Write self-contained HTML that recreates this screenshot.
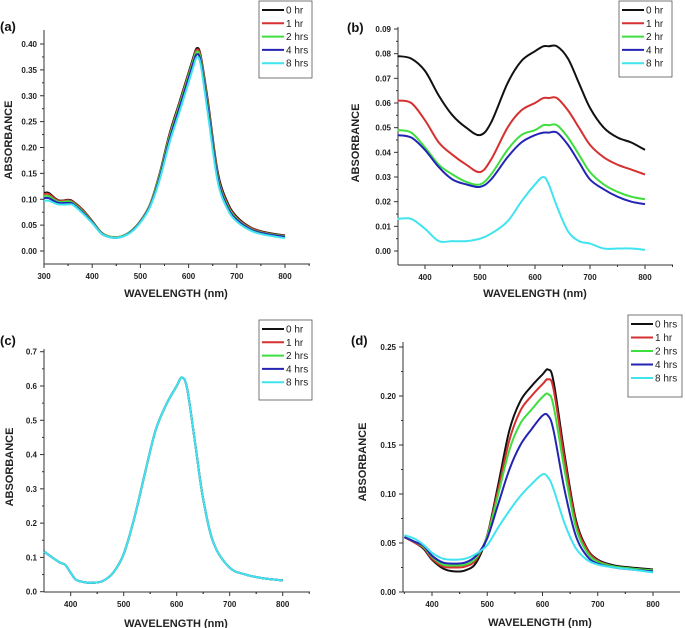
<!DOCTYPE html>
<html><head><meta charset="utf-8"><style>
html,body{margin:0;padding:0;background:#fff;}
svg{display:block;font-family:"Liberation Sans",Arial,sans-serif;}
</style></head><body>
<svg id="fig" width="685" height="628" viewBox="0 0 685 628"></svg>
<script>
// ---- data: panel (a) ----
const aWave=[300,310,330,350,360,380,400,420,440,460,480,500,520,540,560,580,600,610,617,625,640,660,680,700,730,760,800];
const a0=[0.112,0.112,0.098,0.099,0.096,0.08,0.058,0.035,0.027,0.028,0.038,0.058,0.09,0.15,0.225,0.285,0.345,0.375,0.392,0.378,0.29,0.155,0.095,0.066,0.045,0.036,0.030];
const a1=[0.110,0.110,0.097,0.098,0.095,0.079,0.057,0.034,0.027,0.028,0.038,0.058,0.09,0.148,0.222,0.282,0.342,0.372,0.389,0.375,0.285,0.150,0.092,0.064,0.044,0.035,0.029];
const a2=[0.106,0.106,0.095,0.096,0.093,0.077,0.056,0.034,0.027,0.028,0.038,0.057,0.089,0.146,0.219,0.279,0.339,0.369,0.385,0.371,0.28,0.146,0.089,0.062,0.042,0.034,0.028];
const a4=[0.102,0.102,0.093,0.093,0.091,0.075,0.055,0.033,0.026,0.027,0.037,0.056,0.087,0.142,0.214,0.274,0.334,0.364,0.380,0.366,0.274,0.142,0.086,0.060,0.041,0.033,0.027];
const a8=[0.097,0.097,0.090,0.090,0.089,0.073,0.054,0.033,0.026,0.027,0.036,0.055,0.085,0.138,0.208,0.266,0.326,0.356,0.374,0.36,0.265,0.136,0.082,0.057,0.039,0.031,0.025];
const aLabels=["0 hr","1 hr","2 hrs","4 hrs","8 hrs"];
const aTicksY=["0.00","0.05","0.10","0.15","0.20","0.25","0.30","0.35","0.40"];
const aTicksX=["300","400","500","600","700","800"];
// ---- data: panel (b) ----
const bWave=[350,375,400,425,450,475,500,520,550,575,600,615,625,640,660,680,700,725,750,775,800];
const b0=[0.079,0.078,0.073,0.063,0.055,0.050,0.047,0.052,0.068,0.077,0.081,0.083,0.083,0.083,0.078,0.068,0.058,0.050,0.046,0.044,0.041];
const b1=[0.061,0.060,0.053,0.044,0.039,0.035,0.032,0.037,0.050,0.057,0.060,0.062,0.062,0.062,0.057,0.050,0.043,0.038,0.035,0.033,0.031];
const b2=[0.049,0.048,0.042,0.035,0.031,0.028,0.027,0.031,0.041,0.047,0.049,0.051,0.051,0.051,0.046,0.039,0.032,0.027,0.024,0.022,0.021];
const b4=[0.047,0.046,0.041,0.034,0.029,0.027,0.026,0.029,0.038,0.044,0.047,0.048,0.048,0.048,0.043,0.036,0.029,0.025,0.022,0.020,0.019];
const b8=[0.013,0.013,0.009,0.004,0.004,0.004,0.005,0.007,0.012,0.020,0.027,0.030,0.027,0.018,0.008,0.004,0.003,0.001,0.001,0.001,0.0005];
const bLabels=["0 hr","1 hr","2 hr","4 hr","8 hr"];
const bTicksY=["0.00","0.01","0.02","0.03","0.04","0.05","0.06","0.07","0.08","0.09"];
const bTicksX=["400","500","600","700","800"];
// ---- data: panel (c) ----
const cWave=[350,365,380,390,400,410,425,440,460,480,500,520,540,560,580,600,610,620,635,650,670,700,730,760,800];
const c0=[0.117,0.100,0.085,0.078,0.055,0.035,0.028,0.026,0.031,0.055,0.11,0.215,0.345,0.47,0.545,0.6,0.625,0.59,0.43,0.27,0.14,0.07,0.05,0.04,0.033];
const c1=[0.117,0.100,0.085,0.078,0.055,0.035,0.028,0.026,0.031,0.055,0.11,0.215,0.345,0.47,0.545,0.6,0.625,0.59,0.43,0.27,0.14,0.07,0.05,0.04,0.033];
const c2=[0.117,0.100,0.085,0.078,0.055,0.035,0.028,0.026,0.031,0.055,0.11,0.215,0.345,0.47,0.545,0.6,0.625,0.59,0.43,0.27,0.14,0.07,0.05,0.04,0.033];
const c4=[0.117,0.100,0.085,0.078,0.055,0.035,0.028,0.026,0.031,0.055,0.11,0.215,0.345,0.47,0.545,0.6,0.625,0.59,0.43,0.27,0.14,0.07,0.05,0.04,0.033];
const c8=[0.117,0.100,0.085,0.078,0.055,0.035,0.028,0.026,0.031,0.055,0.11,0.215,0.345,0.47,0.545,0.6,0.625,0.59,0.43,0.27,0.14,0.07,0.05,0.04,0.033];
const cLabels=["0 hr","1 hr","2 hrs","4 hrs","8 hrs"];
const cTicksY=["0.0","0.1","0.2","0.3","0.4","0.5","0.6","0.7"];
const cTicksX=["400","500","600","700","800"];
// ---- data: panel (d) ----
const dWave=[350,370,385,400,420,440,460,480,500,520,540,560,580,600,610,620,640,660,680,700,730,760,800];
const d0=[0.056,0.050,0.044,0.033,0.024,0.021,0.022,0.030,0.058,0.11,0.165,0.195,0.21,0.222,0.227,0.215,0.14,0.075,0.045,0.033,0.027,0.025,0.023];
const d1=[0.056,0.050,0.045,0.034,0.026,0.025,0.026,0.033,0.058,0.105,0.155,0.185,0.2,0.212,0.217,0.207,0.135,0.072,0.044,0.032,0.026,0.024,0.022];
const d2=[0.056,0.051,0.046,0.036,0.028,0.027,0.028,0.035,0.057,0.1,0.145,0.172,0.186,0.199,0.202,0.19,0.124,0.067,0.041,0.031,0.026,0.024,0.022];
const d4=[0.056,0.051,0.047,0.037,0.030,0.029,0.030,0.037,0.055,0.09,0.125,0.15,0.166,0.18,0.18,0.165,0.104,0.058,0.037,0.029,0.025,0.023,0.021];
const d8=[0.058,0.054,0.048,0.040,0.034,0.033,0.034,0.039,0.048,0.066,0.083,0.098,0.11,0.12,0.117,0.105,0.07,0.045,0.033,0.028,0.025,0.023,0.020];
const dLabels=["0 hrs","1 hr","2 hrs","4 hrs","8 hrs"];
const dTicksY=["0.00","0.05","0.10","0.15","0.20","0.25"];
const dTicksX=["400","500","600","700","800"];

const colors=["#111111","#d63030","#3ede3e","#2424b4","#40e4ee"];
const NS="http://www.w3.org/2000/svg";
const svg=document.getElementById('fig');
function mk(tag,attrs,parent){const e=document.createElementNS(NS,tag);for(const k in attrs)e.setAttribute(k,attrs[k]);(parent||svg).appendChild(e);return e;}
function smooth(pts){
  let d='M'+pts[0][0].toFixed(1)+','+pts[0][1].toFixed(1);
  for(let i=0;i<pts.length-1;i++){
    const p0=pts[Math.max(0,i-1)],p1=pts[i],p2=pts[i+1],p3=pts[Math.min(pts.length-1,i+2)];
    const c1x=p1[0]+(p2[0]-p0[0])/6,c1y=p1[1]+(p2[1]-p0[1])/6;
    const c2x=p2[0]-(p3[0]-p1[0])/6,c2y=p2[1]-(p3[1]-p1[1])/6;
    d+='C'+c1x.toFixed(1)+','+c1y.toFixed(1)+' '+c2x.toFixed(1)+','+c2y.toFixed(1)+' '+p2[0].toFixed(1)+','+p2[1].toFixed(1);
  }
  return d;
}

function panel(P){
  const g=mk('g',{});
  
  
  const sx=v=>P.x0+(v-P.wx0)/(P.wx1-P.wx0)*(P.px1-P.x0);
  const sy=v=>P.y0+(v-P.vy0)/(P.vy1-P.vy0)*(P.py1-P.y0);
  const ya=mk('line',{x1:P.axL,y1:P.axTop,x2:P.axL,y2:P.axB,stroke:'#333','stroke-width':1},g);
  
  
  const xa=mk('line',{x1:P.axL,y1:P.axB,x2:P.axR,y2:P.axB,stroke:'#333','stroke-width':1},g);
  
  
  P.ticksY.forEach((t,i)=>{
    const y=sy(parseFloat(t));
    mk('line',{x1:P.axL-4,y1:y,x2:P.axL,y2:y,stroke:'#333'},g);
    const tx=mk('text',{x:P.axL-7,y:y+3,'font-size':8,'font-weight':'bold','text-anchor':'end',fill:'#222'},g);
    tx.textContent=t;
    
    
    if(i<P.ticksY.length-1){const step=parseFloat(P.ticksY[1])-parseFloat(P.ticksY[0]);
      const ym=sy(parseFloat(t)+step/2);mk('line',{x1:P.axL-2,y1:ym,x2:P.axL,y2:ym,stroke:'#333'},g);}
  });
  P.ticksX.forEach(t=>{
    const x=sx(parseFloat(t));
    mk('line',{x1:x,y1:P.axB,x2:x,y2:P.axB+4,stroke:'#333'},g);
    const xm=sx(parseFloat(t)+50);
    if(xm<P.axR)mk('line',{x1:xm,y1:P.axB,x2:xm,y2:P.axB+2,stroke:'#333'},g);
    const xm2=sx(parseFloat(t)-50);
    if(xm2>P.axL+1)mk('line',{x1:xm2,y1:P.axB,x2:xm2,y2:P.axB+2,stroke:'#333'},g);
    const tx=mk('text',{x:x,y:P.axB+15,'font-size':8,'font-weight':'bold','text-anchor':'middle',fill:'#222'},g);
    tx.textContent=t;
    
    
  });
  P.series.forEach((s,i)=>{
    const pts=P.wave.map((w,j)=>[sx(w),sy(s[j])]);
    const p=mk('path',{d:smooth(pts),fill:'none',stroke:colors[i],'stroke-width':2,'stroke-linejoin':'round'},g);
    
    
  });
  const xt=mk('text',{x:P.xtX,y:P.xtY,'font-size':11,'font-weight':'bold','text-anchor':'middle',fill:'#222'},g);
  xt.textContent='WAVELENGTH (nm)';
  
  
  const yt=mk('text',{x:0,y:0,'font-size':11,'font-weight':'bold','text-anchor':'middle',fill:'#222',transform:'translate('+P.ytX+','+P.ytY+') rotate(-90)'},g);
  yt.textContent='ABSORBANCE';
  
  
  const pl=mk('text',{x:P.plX,y:P.plY,'font-size':13,'font-weight':'bold',fill:'#111'},g);
  pl.textContent='('+P.id+')';
  
  
  const lg=mk('g',{},g);
  
  
  mk('rect',{x:P.lgX,y:P.lgY,width:P.lgW,height:P.lgH,fill:'#fff',stroke:'#555','stroke-width':0.8},lg);
  P.labels.forEach((l,i)=>{
    const y=P.lgY+9+i*P.lgStep;
    const e=mk('g',{},lg);
    
    
    mk('line',{x1:P.lgX+3,y1:y,x2:P.lgX+25,y2:y,stroke:colors[i],'stroke-width':2},e);
    const t=mk('text',{x:P.lgX+27,y:y+3.5,'font-size':10,fill:'#222'},e);
    t.textContent=l;
  });
}

panel({id:'a',wave:aWave,series:[a0,a1,a2,a4,a8],labels:aLabels,ticksY:aTicksY,ticksX:aTicksX,
  x0:44,px1:285,wx0:300,wx1:800,y0:251,py1:44,vy0:0,vy1:0.40,
  axL:44,axR:310,axTop:30,axB:264,xtX:176,xtY:297,ytX:12,ytY:140,plX:0,plY:31,
  lgX:259,lgY:1,lgW:53,lgH:77,lgStep:13.3});
panel({id:'b',wave:bWave,series:[b0,b1,b2,b4,b8],labels:bLabels,ticksY:bTicksY,ticksX:bTicksX,
  x0:425,px1:645,wx0:400,wx1:800,y0:251,py1:29,vy0:0,vy1:0.09,
  axL:398,axR:673,axTop:27,axB:265,xtX:535,xtY:297,ytX:359,ytY:143,plX:347,plY:32,
  lgX:619,lgY:1,lgW:53,lgH:76,lgStep:13.3});
panel({id:'c',wave:cWave,series:[c0,c1,c2,c4,c8],labels:cLabels,ticksY:cTicksY,ticksX:cTicksX,
  x0:70.7,px1:282.7,wx0:400,wx1:800,y0:591.7,py1:351.7,vy0:0,vy1:0.7,
  axL:44,axR:310,axTop:349,axB:592,xtX:176,xtY:627,ytX:13,ytY:467,plX:0,plY:345,
  lgX:259,lgY:320,lgW:53,lgH:80,lgStep:13.3});
panel({id:'d',wave:dWave,series:[d0,d1,d2,d4,d8],labels:dLabels,ticksY:dTicksY,ticksX:dTicksX,
  x0:432,px1:653,wx0:400,wx1:800,y0:592,py1:347,vy0:0,vy1:0.25,
  axL:403,axR:680,axTop:342,axB:592,xtX:540,xtY:626,ytX:366,ytY:462,plX:351,plY:345,
  lgX:628,lgY:315,lgW:54,lgH:82,lgStep:13.5});
</script>
</body></html>
